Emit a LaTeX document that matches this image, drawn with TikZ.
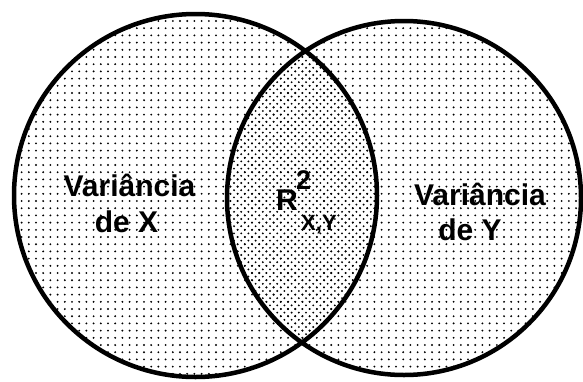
\documentclass[tikz,border=0pt]{standalone}
\usepackage{fontspec}
\setmainfont{Liberation Sans}
\usetikzlibrary{patterns.meta}
\tikzset{
    dotfill/.style={pattern={Dots[distance=7.2pt,radius=1.05pt]}},
    dotshift/.style={pattern={Dots[distance=7.2pt,radius=1.05pt,xshift=3.6pt,yshift=3.6pt]}},
    rim/.style={line width=4.5pt},
    vtext/.style={inner sep=0pt,anchor=base,font=\bfseries\fontsize{30}{35}\selectfont}
}
\begin{document}
\begin{tikzpicture}[x=1pt,y=-1pt]
\fill[white] (0,0) rectangle (583,381);
\useasboundingbox (0,0) rectangle (583,381);
\coordinate (cx) at (195.5,195.5);
\coordinate (cy) at (404,198);
\foreach \c/\r in {cx/181.5,cy/177} {
    \path[dotfill] (\c) circle[radius=\r];
}
\begin{scope}
    \clip (cx) circle[radius=181.5];
    \path[dotshift] (cy) circle[radius=177];
\end{scope}
\draw[rim] (cx) circle[radius=181.5] (cy) circle[radius=177];
\node[vtext] (varx) at (129.5,196) {Variância};
\node[vtext] (dex) at (126.5,232) {de X};
\node[vtext] (vary) at (480,205) {Variância};
\node[vtext] (dey) at (470,240) {de Y};
\node[vtext] (r) at (287,210) {R};
\node[inner sep=0pt,anchor=base west,font=\bfseries\fontsize{27}{30}\selectfont] (sq) at ([xshift=-2pt]r.north east) {2};
\node[inner sep=0pt,anchor=north west,font=\bfseries\fontsize{22}{24}\selectfont] (xy) at ([shift={(3pt,-5pt)}]r.south east) {X,Y};
\end{tikzpicture}
\end{document}
